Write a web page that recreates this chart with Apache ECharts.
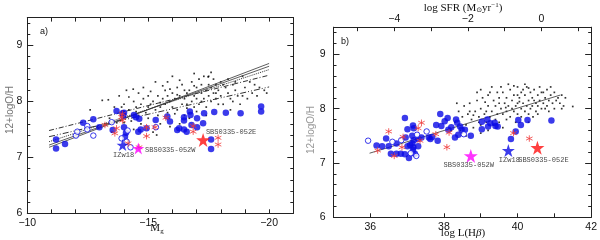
<!DOCTYPE html>
<html><head><meta charset="utf-8">
<script src="https://cdn.jsdelivr.net/npm/echarts@6/dist/echarts.min.js"></script>
<style>html,body{margin:0;padding:0;background:#fff}#c{width:600px;height:240px}</style>
</head><body><div id="c"></div>
<script>
// ---------- Panel a: Mg vs 12+logO/H ----------
const aFilled = [[-11.19,7.32],[-11.19,7.16],[-11.56,7.24],[-12.31,7.62],[-12.73,7.68],[-12.98,7.54],[-13.69,7.83],[-13.53,7.49],[-13.94,7.79],[-13.97,7.74],[-14.0,7.54],[-14.08,7.44],[-14.04,7.37],[-14.41,7.76],[-14.49,7.72],[-14.63,7.69],[-14.69,7.50],[-14.59,7.46],[-14.93,7.52],[-15.31,7.67],[-15.79,7.73],[-15.9,7.64],[-16.2,7.49],[-16.28,7.52],[-16.48,7.72],[-16.48,7.66],[-16.48,7.50],[-16.59,7.46],[-16.72,7.82],[-16.75,7.76],[-17.02,7.54],[-17.31,7.79],[-17.27,7.61],[-17.02,7.70],[-17.73,7.81],[-18.21,7.80],[-18.82,7.79],[-19.67,7.91],[-19.67,7.82],[-17.6,7.32],[-17.6,7.15],[-16.79,7.58],[-14.0,7.80]];
const aOpen = [[-12.01,7.39],[-12.07,7.46],[-12.48,7.56],[-12.48,7.50],[-12.73,7.39],[-13.49,7.63],[-14.11,7.28],[-14.27,7.18],[-15.32,7.54],[-14.15,7.48],[-13.9,7.34]];
const aAst = [[-13.21,7.58],[-13.69,7.52],[-13.62,7.43],[-13.9,7.72],[-13.94,7.66],[-13.93,7.78],[-14.17,7.25],[-14.93,7.38],[-14.93,7.54],[-15.28,7.54],[-15.73,7.71],[-14.62,7.18],[-16.86,7.56],[-16.86,7.46],[-17.89,7.35],[-17.89,7.23]];
const aDots = [[-12.6,7.85],[-13.1,8.02],[-13.4,7.7],[-13.6,7.9],[-13.8,8.1],[-13.9,7.75],[-14.0,7.95],[-14.1,8.2],[-14.2,7.85],[-14.3,7.65],[-14.4,8.0],[-14.5,7.9],[-14.6,8.15],[-14.6,7.75],[-14.7,7.95],[-14.8,8.05],[-14.9,7.8],[-15.0,8.1],[-15.0,7.7],[-15.1,7.95],[-15.2,8.0],[-15.3,8.35],[-15.3,7.85],[-15.4,8.1],[-15.5,7.9],[-15.5,7.6],[-15.6,8.05],[-15.7,8.2],[-15.7,7.95],[-15.8,7.8],[-15.8,8.1],[-15.9,8.0],[-16.0,8.15],[-16.0,7.9],[-16.1,8.05],[-16.2,8.25],[-16.2,7.85],[-16.3,8.1],[-16.4,7.95],[-16.4,8.3],[-16.5,8.05],[-16.5,7.75],[-16.6,8.15],[-16.6,7.95],[-16.7,8.2],[-16.8,8.0],[-16.8,8.35],[-16.9,8.1],[-16.9,7.9],[-17.0,8.25],[-17.0,8.05],[-17.1,8.4],[-17.1,7.95],[-17.2,8.15],[-17.2,8.3],[-17.3,8.05],[-17.3,8.45],[-17.4,8.2],[-17.4,7.9],[-17.5,8.1],[-17.5,8.3],[-17.6,8.0],[-17.6,8.25],[-17.7,8.15],[-17.7,8.4],[-17.8,8.05],[-17.8,8.3],[-17.9,8.2],[-18.0,8.1],[-18.0,8.35],[-18.1,7.95],[-18.2,8.25],[-18.3,8.15],[-18.4,8.05],[-18.5,8.3],[-18.6,8.2],[-18.7,8.1],[-18.8,7.95],[-19.0,8.25],[-19.2,8.35],[-19.3,8.15],[-19.5,8.1],[-19.8,8.2],[-19.9,8.15],[-14.4,7.5],[-15.2,7.45],[-15.9,7.55],[-16.3,7.6],[-13.2,7.6],[-12.9,7.55],[-13.5,7.45],[-15.35,7.40],[-16.7,7.7],[-17.4,7.75],[-18.4,7.85],[-18.9,8.45],[-16.0,8.45],[-13.35,8.03],[-14.38,8.22],[-17.48,8.44],[-13.7,7.62],[-14.2,8.08],[-14.5,7.82],[-14.8,8.25],[-15.1,8.18],[-15.4,7.75],[-15.6,8.28],[-15.9,8.22],[-16.1,7.78],[-16.3,8.38],[-16.6,7.88],[-16.9,8.28],[-17.0,7.82],[-17.2,8.0],[-17.5,8.45],[-17.8,8.15],[-17.9,7.95],[-18.1,8.3],[-18.3,8.4],[-18.5,8.0],[-18.6,8.35],[-18.9,8.1],[-19.1,8.05],[-19.4,8.3],[-19.6,8.25],[-14.0,7.62],[-14.7,7.6],[-15.5,7.98],[-16.2,8.12],[-16.9,8.5],[-17.6,8.52],[-13.9,7.9],[-15.0,7.9],[-15.8,8.35],[-16.5,8.2]];
const aStarNames = ['IZw18','SBS0335-052W','SBS0335-052E'];
const aStars = [[-13.94,7.22],[-14.59,7.16],[-17.27,7.31]];
const aFitSolid1 = [[-10.9,7.18],[-20.0,8.68]];
const aFitSolid2 = [[-10.9,7.22],[-20.0,8.63]];
const aFitDotted = [[-10.9,7.28],[-20.0,8.57]];
const aFitDashDot = [[-10.9,7.48],[-20.0,8.47]];
const aFitDashed = [[-10.9,7.37],[-20.0,8.26]];

// ---------- Panel b: log L(Hbeta) vs 12+logO/H ----------
const bFilled = [[36.17,7.32],[36.43,7.45],[36.32,7.31],[36.5,7.31],[36.94,7.83],[37.90,7.90],[38.10,7.83],[38.02,7.77],[37.16,7.69],[37.01,7.62],[37.79,7.70],[37.93,7.68],[38.33,7.80],[38.36,7.74],[38.44,7.67],[38.57,7.61],[38.30,7.47],[38.39,7.52],[38.73,7.50],[36.71,7.36],[36.96,7.47],[37.14,7.50],[37.18,7.42],[37.30,7.44],[37.39,7.47],[37.59,7.47],[37.63,7.44],[37.68,7.48],[37.83,7.41],[37.14,7.36],[37.17,7.29],[37.08,7.33],[37.01,7.31],[37.30,7.31],[36.71,7.17],[36.83,7.17],[36.94,7.16],[37.16,7.24],[37.21,7.17],[37.05,7.09],[36.56,7.17],[38.48,7.61],[39.03,7.76],[39.03,7.62],[39.18,7.80],[39.20,7.67],[39.26,7.73],[39.38,7.74],[39.40,7.68],[39.46,7.67],[40.02,7.79],[40.09,7.70],[40.27,7.79],[39.95,7.58],[39.82,7.44],[40.92,7.78],[38.12,7.61],[38.2,7.66],[37.18,7.64]];
const bOpen = [[35.94,7.41],[36.60,7.39],[36.84,7.42],[37.27,7.52],[37.53,7.58],[37.10,7.18],[37.25,7.13],[38.54,7.53]];
const bAst = [[36.50,7.58],[37.39,7.74],[37.30,7.64],[36.86,7.29],[36.89,7.48],[36.20,7.23],[36.65,7.13],[37.35,7.41],[38.14,7.56],[37.78,7.53],[38.08,7.29],[40.32,7.45],[39.89,7.55]];
const bDots = [[38.3,7.75],[38.4,7.95],[38.45,7.6],[38.5,7.85],[38.55,8.05],[38.6,7.7],[38.65,7.9],[38.7,8.1],[38.75,7.8],[38.8,7.65],[38.85,7.95],[38.9,8.15],[38.95,7.85],[39.0,7.7],[39.0,8.0],[39.05,8.2],[39.1,7.9],[39.15,7.75],[39.2,8.05],[39.2,8.25],[39.25,7.85],[39.3,7.95],[39.35,8.15],[39.4,7.8],[39.4,8.05],[39.45,7.9],[39.5,8.2],[39.5,7.75],[39.55,8.0],[39.6,8.3],[39.6,7.9],[39.65,8.1],[39.7,7.95],[39.7,8.2],[39.75,8.05],[39.8,8.35],[39.8,7.85],[39.85,8.15],[39.9,7.95],[39.9,8.25],[39.95,8.05],[40.0,8.4],[40.0,8.1],[40.0,7.9],[40.05,8.2],[40.1,8.0],[40.1,8.3],[40.15,8.1],[40.2,7.95],[40.2,8.25],[40.25,8.4],[40.25,8.05],[40.3,8.15],[40.3,7.9],[40.35,8.3],[40.4,8.05],[40.4,8.2],[40.45,8.35],[40.5,8.1],[40.5,7.95],[40.55,8.25],[40.6,8.15],[40.6,8.4],[40.65,8.0],[40.7,8.3],[40.7,8.1],[40.75,8.2],[40.8,8.05],[40.8,8.35],[40.85,8.15],[40.9,8.25],[40.95,8.1],[41.0,8.3],[41.0,8.0],[41.1,8.2],[41.15,8.1],[41.2,8.25],[41.25,8.05],[41.3,8.2],[41.5,8.04],[39.2,7.6],[39.6,7.65],[40.3,7.75],[38.6,7.5],[39.0,7.55],[38.2,7.6],[38.35,8.1],[38.9,8.3],[39.3,8.4],[39.75,8.45],[39.9,8.42],[40.15,8.35],[40.55,8.05],[40.85,7.95],[39.45,8.3],[38.8,7.88],[39.12,8.12],[40.42,7.85],[39.68,8.02],[40.05,8.13],[38.5,7.55],[38.7,7.95],[39.0,8.35],[39.15,7.95],[39.35,7.7],[39.55,8.4],[39.7,7.8],[39.85,8.0],[40.0,8.25],[40.1,7.85],[40.2,8.45],[40.35,8.0],[40.45,8.15],[40.55,7.9],[40.65,8.3],[40.75,8.0],[40.9,8.4],[41.05,8.15],[41.2,8.0],[40.3,8.38],[39.5,8.1],[39.95,7.75],[38.95,7.75],[39.25,8.3]];
const bStarNames = ['SBS0335-052W','IZw18','SBS0335-052E'];
const bStars = [[38.73,7.13],[39.75,7.23],[40.54,7.28]];
const bFit = [[35.98,7.18],[41.16,8.25]];

// ---------- Rendering ----------
const STAR = 'path://M50,0L61.8,35.1L98.9,35.1L68.8,57.1L80.2,92.7L50,70.5L19.8,92.7L31.2,57.1L1.1,35.1L38.2,35.1Z';
const AST = 'path://M5,0L5,10M0.67,2.5L9.33,7.5M0.67,7.5L9.33,2.5';
const BLUE = '#0a0ae6', RED = '#f03c3c', AXC = '#222';
const FONT = 'Liberation Sans';
const minus = s => String(s).replace('-', '\u2212');
const isInt = v => Math.abs(v - Math.round(v)) < 1e-6;

function xAx(grid, pos, min, max, opts) {
  return Object.assign({
    type: 'value', gridIndex: grid, position: pos, min, max,
    axisLine: {show: true, onZero: false, lineStyle: {color: AXC, width: 1}},
    axisTick: {show: true, inside: true, length: 4, lineStyle: {color: AXC}},
    axisLabel: {show: false},
    splitLine: {show: false}
  }, opts);
}
function yAx(grid, pos, showLabel, margin) {
  return {
    type: 'value', gridIndex: grid, position: pos, min: 6, max: 9.5, interval: 1,
    axisLine: {show: true, onZero: false, lineStyle: {color: AXC, width: 1}},
    axisTick: {show: true, inside: true, length: 6, lineStyle: {color: AXC}},
    minorTick: {show: true, splitNumber: 5, length: 3, lineStyle: {color: AXC}},
    axisLabel: {show: showLabel, margin: margin, color: '#111', fontFamily: FONT, fontSize: 10.5,
      formatter: v => isInt(v) ? String(Math.round(v)) : ''},
    splitLine: {show: false}
  };
}

const fitLine = (data, type, width) => ({
  type: 'line', xAxisIndex: 0, yAxisIndex: 0, data, symbol: 'none', silent: true, z: 3,
  lineStyle: {color: '#333', width: width || 0.8, type}
});

function scat(xi, yi, data, symbol, size, style, z) {
  return {type: 'scatter', xAxisIndex: xi, yAxisIndex: yi, data, symbol, symbolSize: size, itemStyle: style, z: z || 4, silent: true};
}

function starSeries(xi, yi, pts, names, colors, sizes, offsets) {
  return {
    type: 'scatter', xAxisIndex: xi, yAxisIndex: yi, symbol: STAR, z: 6, silent: true,
    data: pts.map((p, i) => ({
      value: p, symbolSize: sizes[i], itemStyle: {color: colors[i]},
      label: {show: true, position: 'inside', offset: offsets[i], formatter: names[i],
        fontFamily: 'Liberation Mono', fontSize: 7, color: '#111'}
    }))
  };
}

const option = {
  animation: false,
  backgroundColor: '#fff',
  grid: [
    {left: 27.3, top: 17.6, width: 266, height: 195.7},
    {left: 333.5, top: 27.2, width: 260.5, height: 190.1}
  ],
  xAxis: [
    xAx(0, 'bottom', -21, -10, {inverse: true, interval: 1,
      axisLabel: {show: true, margin: 4, color: '#111', fontFamily: FONT, fontSize: 10.5,
        formatter: v => (isInt(v) && Math.round(v) % 5 === 0) ? minus(Math.round(v)) : ''}}),
    xAx(0, 'top', -21, -10, {inverse: true, interval: 1}),
    xAx(1, 'bottom', 35, 42, {interval: 1,
      axisLabel: {show: true, margin: 4, color: '#111', fontFamily: FONT, fontSize: 10.5,
        formatter: v => (isInt(v) && Math.round(v) % 2 === 0) ? String(Math.round(v)) : ''}}),
    xAx(1, 'top', -5.65, 1.35, {splitNumber: 7,
      axisLabel: {show: true, margin: 3, color: '#111', fontFamily: FONT, fontSize: 10.5,
        formatter: v => (isInt(v) && Math.round(v) % 2 === 0) ? minus(Math.round(v) === 0 ? 0 : Math.round(v)) : ''}})
  ],
  yAxis: [
    yAx(0, 'left', true, 5),
    yAx(0, 'right', false, 0),
    yAx(1, 'left', true, 8),
    yAx(1, 'right', false, 0)
  ],
  graphic: [
    {type: 'text', x: 10, y: 110, rotation: Math.PI / 2, style: {text: '12+logO/H', fill: '#777', font: '10px ' + FONT, align: 'center', verticalAlign: 'middle'}},
    {type: 'text', x: 311, y: 130, rotation: Math.PI / 2, style: {text: '12+logO/H', fill: '#999', font: '10px ' + FONT, align: 'center', verticalAlign: 'middle'}},
    {type: 'text', x: 40, y: 32, style: {text: 'a)', fill: '#111', font: '9px ' + FONT, verticalAlign: 'middle'}},
    {type: 'text', x: 341, y: 42, style: {text: 'b)', fill: '#111', font: '9px ' + FONT, verticalAlign: 'middle'}},
    {type: 'text', x: 157, y: 228, style: {text: 'M{s|g}', rich: {s: {fontSize: 7, fontFamily: 'Liberation Serif', padding: [6, 0, 0, 0], fill: '#111'}}, fill: '#111', font: '11px Liberation Serif', align: 'center', verticalAlign: 'middle'}},
    {type: 'text', x: 463, y: 233, style: {text: 'log L(H{i|\u03b2})', rich: {i: {fontStyle: 'italic', fontFamily: 'Liberation Serif', fontSize: 11, fill: '#111'}}, fill: '#111', font: '11px Liberation Serif', align: 'center', verticalAlign: 'middle'}},
    {type: 'text', x: 463, y: 8, style: {text: 'log SFR (M{s|\u2299}yr{p|\u22121})', rich: {s: {fontSize: 7, fontFamily: 'DejaVu Sans', padding: [5, 0, 0, 0], fill: '#111'}, p: {fontSize: 7, fontFamily: 'Liberation Serif', padding: [0, 0, 6, 0], fill: '#111'}}, fill: '#111', font: '11px Liberation Serif', align: 'center', verticalAlign: 'middle'}}
  ],
  series: [
    scat(0, 0, aDots, 'rect', 1.7, {color: '#000'}, 2),
    fitLine(aFitSolid1, 'solid', 0.8),
    fitLine(aFitSolid2, 'solid', 0.8),
    fitLine(aFitDotted, 'dotted', 1),
    fitLine(aFitDashDot, [5, 2, 1, 2], 1),
    fitLine(aFitDashed, [6, 2, 1, 2, 1, 2], 1),
    scat(0, 0, aFilled, 'circle', 6.5, {color: BLUE}),
    scat(0, 0, aOpen, 'circle', 5.5, {color: '#fff', borderColor: BLUE, borderWidth: 1}),
    scat(0, 0, aAst, AST, 6.5, {color: 'transparent', borderColor: RED, borderWidth: 1}, 5),
    starSeries(0, 0, aStars, aStarNames, [BLUE, '#ff00ff', '#ff1010'], [12, 12, 14], [[1, 10], [32, 2], [28, -8]]),

    scat(2, 2, bDots, 'rect', 1.7, {color: '#000'}, 2),
    {type: 'line', xAxisIndex: 2, yAxisIndex: 2, data: bFit, symbol: 'none', silent: true, z: 3, lineStyle: {color: '#333', width: 0.8}},
    scat(2, 2, bFilled, 'circle', 6.5, {color: BLUE}),
    scat(2, 2, bOpen, 'circle', 5.5, {color: '#fff', borderColor: BLUE, borderWidth: 1}),
    scat(2, 2, bAst, AST, 6.5, {color: 'transparent', borderColor: RED, borderWidth: 1}, 5),
    starSeries(2, 2, bStars, bStarNames, ['#ff00ff', BLUE, '#ff1010'], [14, 13, 14], [[-2, 9], [1, 10], [6, 12]])
  ]
};
const chart = echarts.init(document.getElementById('c'), null, {renderer: 'canvas'});
chart.setOption(option);
</script></body></html>
